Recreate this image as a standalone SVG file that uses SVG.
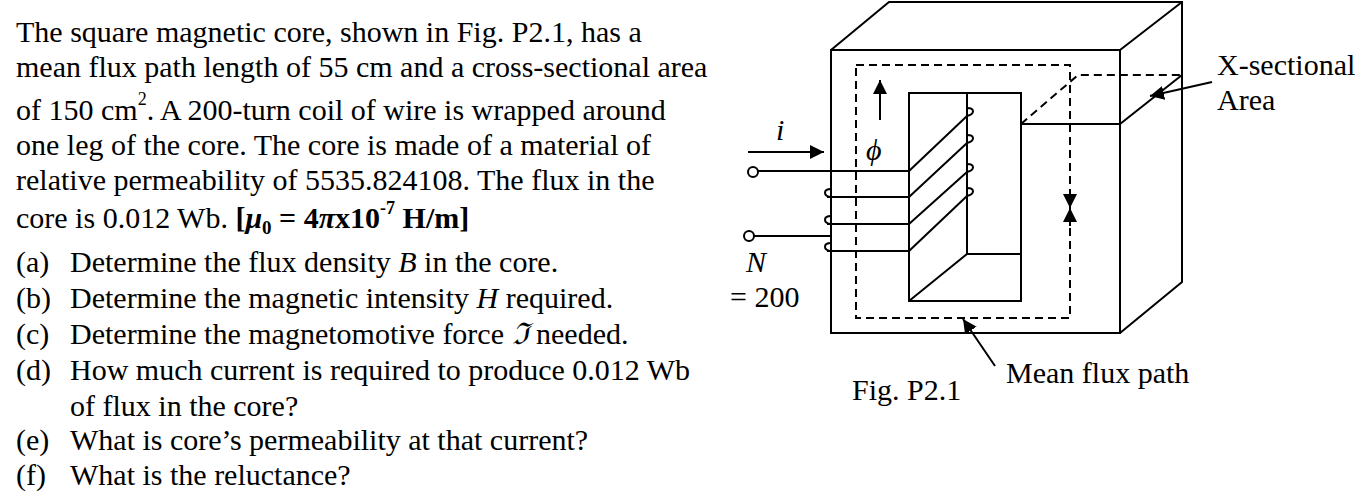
<svg xmlns="http://www.w3.org/2000/svg" width="1356" height="502" viewBox="0 0 1356 502">
<defs><marker id="ah" markerWidth="12" markerHeight="10" refX="12" refY="5" orient="auto" markerUnits="userSpaceOnUse"><path d="M0,0L12,5L0,10Z" fill="#000"/></marker>
<marker id="ab" markerWidth="14" markerHeight="14" refX="14" refY="7" orient="auto" markerUnits="userSpaceOnUse"><path d="M0,0L14,7L0,14Z" fill="#000"/></marker></defs>
<style>text{font-family:"Liberation Serif",serif;font-size:30px;fill:#000}.s{fill:none;stroke:#000;stroke-width:2}.d{fill:none;stroke:#000;stroke-width:2;stroke-dasharray:8,5}</style>
<rect width="1356" height="502" fill="#fff"/>
<g id="text">
<text x="16" y="42">The square magnetic core, shown in Fig. P2.1, has a</text>
<text x="16" y="77">mean flux path length of 55 cm and a cross-sectional area</text>
<text x="16" y="120">of 150 cm<tspan font-size="18" dy="-15">2</tspan><tspan dy="15">. A 200-turn coil of wire is wrapped around</tspan></text>
<text x="16" y="155">one leg of the core. The core is made of a material of</text>
<text x="16" y="190">relative permeability of 5535.824108. The flux in the</text>
<text x="16" y="228">core is 0.012 Wb. <tspan font-weight="bold">[<tspan font-style="italic">μ</tspan><tspan font-size="19" dy="6">0</tspan><tspan dy="-6"> = 4<tspan font-style="italic">π</tspan>x10</tspan><tspan font-size="18" dy="-14">-7</tspan><tspan dy="14"> H/m]</tspan></tspan></text>
<text x="16" y="272">(a)</text><text x="70" y="272">Determine the flux density <tspan font-style="italic">B</tspan> in the core.</text>
<text x="16" y="308">(b)</text><text x="70" y="308">Determine the magnetic intensity <tspan font-style="italic">H</tspan> required.</text>
<text x="16" y="344">(c)</text><text x="70" y="344">Determine the magnetomotive force <tspan font-style="italic">ℑ</tspan> needed.</text>
<text x="16" y="380">(d)</text><text x="70" y="380">How much current is required to produce 0.012 Wb</text>
<text x="70" y="416">of flux in the core?</text>
<text x="16" y="450">(e)</text><text x="70" y="450">What is core’s permeability at that current?</text>
<text x="16" y="485">(f)</text><text x="70" y="485">What is the reluctance?</text>
</g>
<g id="core">
<path class="s" d="M831,50H1120V333H831Z M831,50L889,2H1182V282L1120,333 M1120,50L1182,2"/>
<path class="s" d="M909,93H1021V301H909Z M967,93V254H1021 M967,254L909,301"/>
<path class="s" d="M1021,124H1120L1182,75"/>
<path class="d" d="M1021,124L1078,75H1182"/>
<rect class="d" x="856" y="65" width="214" height="253"/>
</g>
<g id="coil">
<circle class="s" cx="753" cy="172" r="5" fill="#fff"/>
<circle class="s" cx="749" cy="236" r="5" fill="#fff"/>
<path class="s" d="M758,171H909 M827,197H909 M827,224H909 M827,251H909 M754,236H831"/>
<path class="s" d="M909,171L967,116 M909,197L967,143 M909,224L967,172 M909,251L967,196"/>
<path class="s" d="M967,116c8,-2 8,-8 0,-8 M967,143c8,-2 8,-8 0,-8 M967,172c8,-2 8,-8 0,-8 M967,196c8,-2 8,-8 0,-8"/>
<path class="s" d="M831,197c-8,-1 -8,-8 0,-8 M831,224c-8,-1 -8,-8 0,-8 M831,251c-8,-1 -8,-8 0,-8"/>
</g>
<g id="connectors">
<line class="s" x1="748" y1="152" x2="824" y2="152" marker-end="url(#ab)"/>
<line class="s" x1="880" y1="120" x2="880" y2="80" marker-end="url(#ab)"/>
<line x1="1070" y1="190" x2="1070" y2="208" stroke="#000" stroke-width="2" marker-end="url(#ab)"/>
<line x1="1070" y1="226" x2="1070" y2="208" stroke="#000" stroke-width="2" marker-end="url(#ab)"/>
<line class="s" x1="1212" y1="82" x2="1150" y2="96" marker-end="url(#ab)"/>
<line class="s" x1="995" y1="366" x2="963" y2="319" marker-end="url(#ab)"/>
</g>
<g id="labels">
<text x="776" y="140" font-style="italic">i</text>
<text x="866" y="160" font-style="italic">ϕ</text>
<text x="746" y="272" font-style="italic">N</text>
<text x="730" y="307">= 200</text>
<text x="1217" y="75">X-sectional</text>
<text x="1217" y="110">Area</text>
<text x="1006" y="383">Mean flux path</text>
<text x="852" y="400">Fig. P2.1</text>
</g>
</svg>
